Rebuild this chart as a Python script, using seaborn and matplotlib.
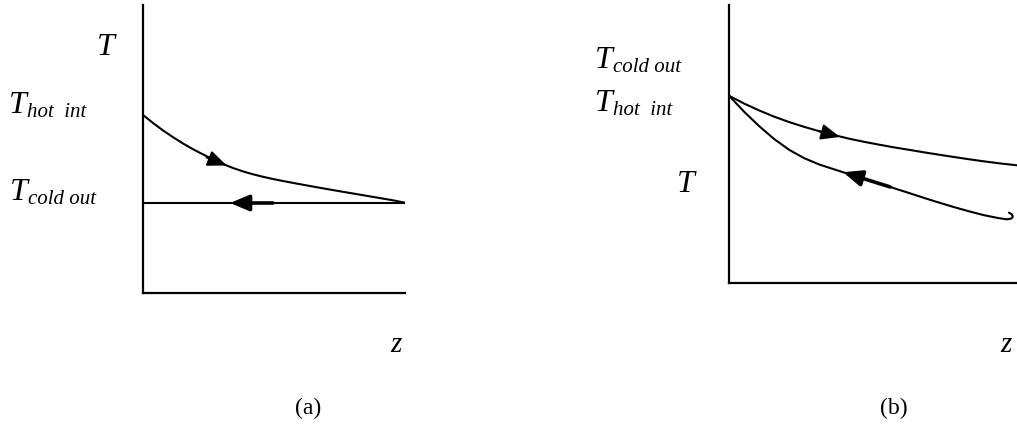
import matplotlib
matplotlib.use("Agg")
import matplotlib.pyplot as plt
import seaborn as sns
import pandas as pd

# Panel (a): hot stream cools toward the constant cold-outlet level (axis units 0-100)
z_hot_a = [0.0, 3.82, 7.63, 11.45, 15.27, 19.08, 22.90, 26.72, 30.53, 34.35, 38.17, 41.98, 45.80, 49.62,
           53.44, 57.25, 61.07, 64.89, 68.70, 72.52, 76.34, 80.15, 83.97, 87.79, 91.60, 95.42, 100.0]
T_hot_a = [61.81, 59.03, 56.46, 54.10, 51.91, 49.93, 48.13, 46.39, 44.79, 43.40, 42.22, 41.22, 40.35, 39.58,
           38.89, 38.23, 37.59, 36.96, 36.34, 35.73, 35.14, 34.55, 33.96, 33.37, 32.78, 32.19, 31.35]
z_cold_a = [0.0, 100.0]
T_cold_a = [31.25, 31.25]

# Panel (b): both streams start from the same point and fall along z
z_hot_b = [0.0, 5.21, 10.42, 15.63, 20.83, 26.04, 31.25, 36.46, 41.67, 46.88, 52.08, 57.29, 62.50,
           67.71, 72.92, 78.13, 83.33, 88.54, 93.75, 100.0]
T_hot_b = [67.37, 64.57, 62.09, 59.86, 57.91, 56.19, 54.62, 53.22, 51.92, 50.79, 49.77, 48.79, 47.91,
           47.01, 46.15, 45.32, 44.51, 43.76, 43.06, 42.34]
z_cold_b = [0.0, 5.21, 10.42, 15.63, 20.83, 26.04, 31.25, 36.46, 41.67, 46.88, 52.08, 57.29, 62.50,
            67.71, 72.92, 78.13, 83.33, 88.54, 93.75, 96.53, 98.09, 98.54, 98.19, 97.22]
T_cold_b = [67.37, 61.65, 56.47, 51.83, 47.95, 44.93, 42.66, 40.90, 39.17, 37.50, 35.83, 34.10, 32.37,
            30.61, 28.92, 27.30, 25.79, 24.39, 23.31, 22.91, 23.20, 23.92, 24.71, 25.29]

# Flow-direction arrows: (tail z, tail T, head z, head T, shaft width)
arrows_a = [(24.31, 47.05, 31.95, 44.27, 1.5), (49.6, 31.25, 33.2, 31.25, 2.6)]
arrows_b = [(31.6, 54.5, 38.54, 52.55, 1.5), (55.9, 34.57, 39.58, 39.86, 2.6)]

sns.set_theme(style="white")
plt.rcParams["font.family"] = ["Liberation Serif", "DejaVu Serif"]

W, H = 1017, 426
fig = plt.figure(figsize=(W / 100, H / 100), dpi=100)


def px_axes(left, right, top, bottom):
    return fig.add_axes([left / W, 1 - bottom / H, (right - left) / W, (bottom - top) / H])


def draw_panel(ax, curves, arrows):
    for z, T in curves:
        df = pd.DataFrame({"z": z, "T": T})
        sns.lineplot(data=df, x="z", y="T", ax=ax, sort=False, estimator=None,
                     color="black", linewidth=1.5)
    for z0, t0, z1, t1, lw in arrows:
        ax.annotate("", xy=(z1, t1), xytext=(z0, t0),
                    arrowprops=dict(arrowstyle="-|>,head_length=0.6,head_width=0.25",
                                    mutation_scale=19, color="black", lw=lw,
                                    shrinkA=0, shrinkB=0))
    ax.set_xlim(0, 100)
    ax.set_ylim(0, 100)
    ax.set_xticks([])
    ax.set_yticks([])
    ax.set_xlabel("")
    ax.set_ylabel("")
    ax.patch.set_alpha(0)
    sns.despine(ax=ax)
    for s in ("left", "bottom"):
        ax.spines[s].set_linewidth(1.6)
        ax.spines[s].set_color("black")


ax_a = px_axes(143, 405, 5, 293)
draw_panel(ax_a, [(z_hot_a, T_hot_a), (z_cold_a, T_cold_a)], arrows_a)
ax_b = px_axes(729, 1017, 5, 283)
draw_panel(ax_b, [(z_hot_b, T_hot_b), (z_cold_b, T_cold_b)], arrows_b)


def label(x, y, s, size, italic=True):
    fig.text(x / W, 1 - y / H, s, fontsize=size, va="baseline", ha="left",
             style="italic" if italic else "normal", color="black")


def sym(x, y, sub, subdx=18, subdy=4):
    label(x, y, "T", 23)
    if sub:
        label(x + subdx, y + subdy, sub, 15)


# panel (a) labels
sym(97, 55, "")
sym(9, 113, "hot  int")
sym(10, 200, "cold out")
label(390, 352, "z", 21)
label(295, 414, "(a)", 17, italic=False)

# panel (b) labels
sym(595, 68, "cold out")
sym(595, 111, "hot  int")
sym(677, 192, "")
label(1000, 352, "z", 21)
label(880, 414, "(b)", 17, italic=False)

fig.savefig("out.png", dpi=100)
